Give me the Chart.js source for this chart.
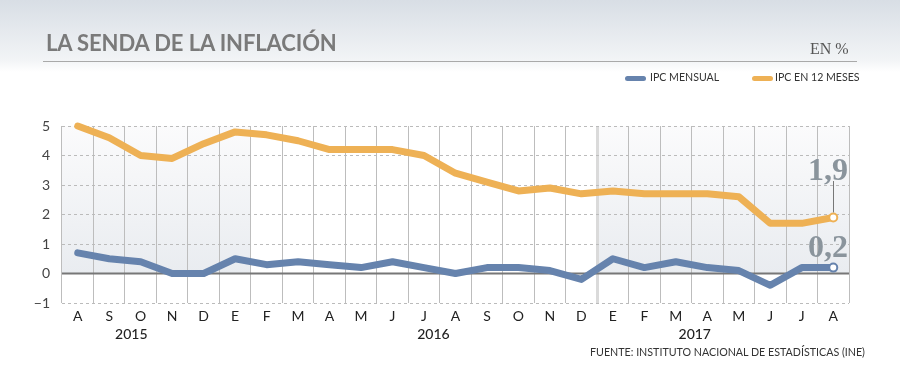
<!DOCTYPE html>
<html>
<head>
<meta charset="utf-8">
<script src="https://cdn.jsdelivr.net/npm/chart.js@4/dist/chart.umd.min.js"></script>
<style>
  html, body { margin: 0; padding: 0; }
  body { width: 900px; height: 370px; position: relative; overflow: hidden;
         background: linear-gradient(to bottom, #d8dee5 0px, #f2f4f6 60px, #ffffff 72px, #ffffff 370px);
         font-family: Lato, "Open Sans", sans-serif; }
  #wrap { position: absolute; left: 0; top: 0; width: 900px; height: 370px; }
  .abs { position: absolute; white-space: nowrap; }
  #title { left: 46px; top: 29px; font-size: 22px; font-weight: 700; color: #7a7a7a; letter-spacing: -0.1px; }
  #rule { left: 43px; top: 61px; width: 814px; height: 0; border-top: 1px solid #a9a9a9; }
  #unit { left: 810px; top: 40px; font-family: "Liberation Serif", serif; font-size: 16px; color: #555; }
  .sw { position: absolute; height: 5px; width: 21px; border-radius: 3px; top: 76px; }
  .lg { top: 71px; font-size: 10.6px; color: #333; }
  #src { left: 590px; top: 345px; font-size: 10.7px; color: #333; }
</style>
</head>
<body>
<div id="wrap"><canvas id="c" width="900" height="370"></canvas></div>
<div class="abs" id="title">LA SENDA DE LA INFLACIÓN</div>
<div class="abs" id="rule"></div>
<div class="abs" id="unit">EN %</div>
<div class="sw" style="left:625px;background:#6683ad"></div>
<div class="abs lg" style="left:650px">IPC MENSUAL</div>
<div class="sw" style="left:752px;background:#eeb155"></div>
<div class="abs lg" style="left:775px">IPC EN 12 MESES</div>
<div class="abs" id="src">FUENTE: INSTITUTO NACIONAL DE ESTADÍSTICAS (INE)</div>
<script>
// ---- data ----
const months = ["A","S","O","N","D","E","F","M","A","M","J","J","A","S","O","N","D","E","F","M","A","M","J","J","A"];
const ipcMensual = [0.7,0.5,0.4,0.0,0.0,0.5,0.3,0.4,0.3,0.2,0.4,0.2,0.0,0.2,0.2,0.1,-0.2,0.5,0.2,0.4,0.2,0.1,-0.4,0.2,0.2];
const ipc12Meses = [5.0,4.6,4.0,3.9,4.4,4.8,4.7,4.5,4.2,4.2,4.2,4.0,3.4,3.1,2.8,2.9,2.7,2.8,2.7,2.7,2.7,2.6,1.7,1.7,1.9];
const yTicks = [-1,0,1,2,3,4,5];
const years = ["2015","2016","2017"];
const yearCenters = [1.7, 11.3, 19.6];        // category positions of year labels
const shadedRanges = [[-0.5, 5.5], [16.5, 24.5]]; // category ranges with shaded background

const BLUE = "#6683ad", ORANGE = "#eeb155";
const last = months.length - 1;

const decor = {
  id: "decor",
  beforeDraw(chart) {
    const {ctx, chartArea: a, scales: {x, y}} = chart;
    const y0 = y.getPixelForValue(0);
    ctx.save();
    const g = ctx.createLinearGradient(0, a.top, 0, y0);
    g.addColorStop(0, "#fbfbfc");
    g.addColorStop(1, "#e9ecf0");
    ctx.fillStyle = g;
    shadedRanges.forEach(([s, e]) => {
      const x1 = Math.max(a.left, x.getPixelForValue(s));
      const x2 = Math.min(a.right, x.getPixelForValue(e));
      ctx.fillRect(x1, a.top, x2 - x1, y0 - a.top);
    });
    ctx.restore();
  },
  beforeDatasetsDraw(chart) {
    const {ctx, chartArea: a, scales: {y}} = chart;
    const y0 = y.getPixelForValue(0);
    ctx.save();
    ctx.strokeStyle = "#777";
    ctx.lineWidth = 2;
    ctx.beginPath();
    ctx.moveTo(a.left, y0);
    ctx.lineTo(a.right, y0);
    ctx.stroke();
    ctx.restore();
  },
  afterDraw(chart) {
    const {ctx, scales: {x}} = chart;
    ctx.save();
    ctx.fillStyle = "#222";
    ctx.font = "500 14px Lato, sans-serif";
    ctx.textAlign = "center";
    ctx.textBaseline = "middle";
    years.forEach((t, i) => ctx.fillText(t, x.getPixelForValue(yearCenters[i]), 334));
    // end-value labels
    const fmt = v => v.toFixed(1).replace(".", ",");
    const pOr = chart.getDatasetMeta(1).data[last];
    ctx.font = "bold 32px 'Liberation Serif', serif";
    ctx.fillStyle = "#8a949c";
    ctx.textAlign = "right";
    ctx.textBaseline = "alphabetic";
    ctx.fillText(fmt(ipc12Meses[last]), 848, 180);
    ctx.fillText(fmt(ipcMensual[last]), 848, 257);
    ctx.strokeStyle = "#777";
    ctx.lineWidth = 1;
    ctx.beginPath();
    ctx.moveTo(Math.round(pOr.x) + 0.5, 181);
    ctx.lineTo(Math.round(pOr.x) + 0.5, pOr.y - 5);
    ctx.stroke();
    ctx.restore();
  }
};

const lastOnly = (r) => (ctx) => ctx.dataIndex === last ? r : 0;

new Chart(document.getElementById("c"), {
  type: "line",
  data: {
    labels: months,
    datasets: [
      { label: "IPC MENSUAL", data: ipcMensual, borderColor: BLUE, borderWidth: 7,
        pointRadius: lastOnly(4), pointBackgroundColor: "#fff", pointBorderColor: BLUE, pointBorderWidth: 2,
        tension: 0, borderJoinStyle: "round", borderCapStyle: "round", clip: false },
      { label: "IPC EN 12 MESES", data: ipc12Meses, borderColor: ORANGE, borderWidth: 7,
        pointRadius: lastOnly(4), pointBackgroundColor: "#fff", pointBorderColor: ORANGE, pointBorderWidth: 2,
        tension: 0, borderJoinStyle: "round", borderCapStyle: "round", clip: false }
    ]
  },
  options: {
    responsive: false,
    animation: false,
    devicePixelRatio: 1,
    layout: { padding: { left: 0, right: 51, top: 126, bottom: 0 } },
    plugins: { legend: { display: false }, tooltip: { enabled: false } },
    scales: {
      x: {
        offset: true,
        grid: { offset: true, drawTicks: false,
                color: (c) => c.index === 17 ? "#dadada" : "#bdbdbd",
                lineWidth: (c) => c.index === 17 ? 3 : 1 },
        border: { display: false },
        ticks: { padding: 5, color: "#222", font: { family: "Lato", size: 14 }, maxRotation: 0, autoSkip: false },
        afterFit: (s) => { s.height = 67; }
      },
      y: {
        min: -1, max: 5,
        afterBuildTicks: (s) => { s.ticks = yTicks.map(v => ({ value: v })); },
        grid: { color: "#bbbbbb", lineWidth: 1, drawTicks: false },
        border: { display: false, dash: [3, 3] },
        ticks: { padding: 12, color: "#444", font: { family: "Lato", size: 14 },
                 callback: (v) => v < 0 ? "\u2212" + Math.abs(v) : String(v) },
        afterFit: (s) => { s.width = 62; }
      }
    }
  },
  plugins: [decor]
});
</script>
</body>
</html>
